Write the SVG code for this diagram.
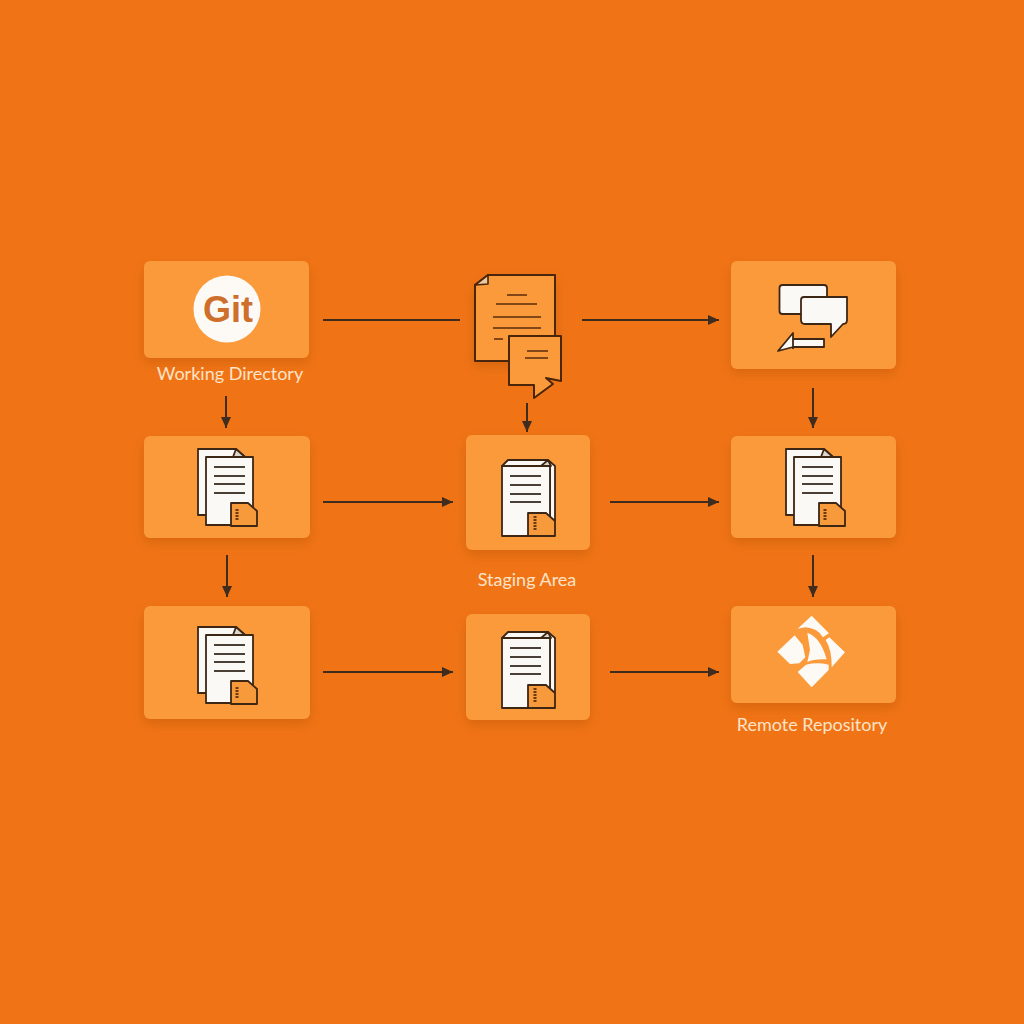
<svg xmlns="http://www.w3.org/2000/svg" width="1024" height="1024" viewBox="0 0 1024 1024">
<style>
.card{fill:#fb9a3a;filter:url(#sh)}
.lab{font-family:"Lato","Noto Sans","Liberation Sans",sans-serif;font-size:18px;fill:#fde3c8;text-anchor:middle}
.conn{stroke:#3f2c1e;stroke-width:2;fill:none}
.ink{stroke:#3d2614;stroke-width:1.8;stroke-linejoin:round}
.paper{fill:#fbf9f6}
.fold{fill:#f79a3c}
.ln{stroke:#4a4038;stroke-width:2;fill:none}
.ln2{stroke:#5a2d0c;stroke-width:1.7;fill:none}
</style>
<defs>
<filter id="sh" x="-15%" y="-15%" width="130%" height="135%"><feDropShadow dx="0" dy="5" stdDeviation="6" flood-color="#b24f06" flood-opacity=".4"/></filter>
<marker id="ah" markerUnits="userSpaceOnUse" markerWidth="12" markerHeight="12" refX="11" refY="6" orient="auto"><path d="M0 1L11 6L0 11Z" fill="#3f2c1e"/></marker>
<symbol id="docA" overflow="visible">
<path class="ink paper" d="M198 449H236L245 457V515H198Z"/>
<path class="ink" fill="#ddd6cc" d="M236 449L245 457H233Z"/>
<path class="ink paper" d="M206 457H253V525H206Z"/>
<path class="ln" d="M214 467H245M214 476H245M214 484H245M214 493H245"/>
<path class="ink fold" d="M231 503H248L257 511V526H231Z"/>
<path d="M237 509V521" stroke="#6b3a10" stroke-width="3" stroke-dasharray="2 1" fill="none"/>
</symbol>
<symbol id="docB" overflow="visible">
<path class="ink paper" d="M508 632H548L555 638V692H550V638H502L508 632Z"/>
<path class="ink paper" d="M502 638H550V708H502Z"/>
<path class="ink" fill="#ddd6cc" d="M541 638L548 632L551 638Z"/>
<path class="ln" d="M510 648H541M510 657H541M510 666H541M510 674H541"/>
<path class="ink fold" d="M528 685H546L555 693V708H528Z"/>
<path d="M535 688V702" stroke="#6b3a10" stroke-width="3" stroke-dasharray="2 1" fill="none"/>
</symbol>
</defs>
<rect width="1024" height="1024" fill="#f07416"/>

<g id="connectors">
<path class="conn" d="M323 320H460"/>
<path class="conn" marker-end="url(#ah)" d="M582 320H719"/>
<path class="conn" marker-end="url(#ah)" d="M226 396V428"/>
<path class="conn" marker-end="url(#ah)" d="M527 403V432"/>
<path class="conn" marker-end="url(#ah)" d="M813 388V428"/>
<path class="conn" marker-end="url(#ah)" d="M323 502H453"/>
<path class="conn" marker-end="url(#ah)" d="M610 502H719"/>
<path class="conn" marker-end="url(#ah)" d="M227 555V597"/>
<path class="conn" marker-end="url(#ah)" d="M813 555V597"/>
<path class="conn" marker-end="url(#ah)" d="M323 672H453"/>
<path class="conn" marker-end="url(#ah)" d="M610 672H719"/>
</g>

<g id="working-directory">
<rect class="card" x="144" y="261" width="165" height="97" rx="6"/>
<circle cx="227" cy="309" r="33.500" fill="#fdfaf6"/>
<text x="228" y="322" font-family="'Liberation Sans',sans-serif" font-weight="700" font-size="36" fill="#cf6f2c" text-anchor="middle">Git</text>
<text class="lab" x="230" y="380">Working Directory</text>
</g>

<g id="commit-note">
<path fill="#fb9a3a" stroke="#4a2508" stroke-width="2" stroke-linejoin="round" d="M488 275H555V361H475V285Z" filter="url(#sh)"/>
<path fill="#ecc9a0" stroke="#4a2508" stroke-width="1.6" stroke-linejoin="round" d="M488 275L475 285L488 284Z"/>
<path class="ln2" d="M507 295H527M496 304H537M493 317H541M493 328H541M494 339H503"/>
<path fill="#fb9a3a" stroke="#4a2508" stroke-width="2" stroke-linejoin="round" d="M509 336H561V381L546 378L553 384L534 398V385H509Z"/>
<path class="ln2" d="M527 351H548M525 358H548"/>
</g>

<g id="chat">
<rect class="card" x="731" y="261" width="165" height="108" rx="6"/>
<rect class="ink paper" x="779.500" y="285" width="47.500" height="29" rx="3"/>
<path class="ink paper" d="M804 297H847V320Q847 324 843 324L831 337V324H805Q801 324 801 320V300Q801 297 804 297Z"/>
<path class="ink paper" d="M778 351L793 333V339H824V347H793Z"/>
<path class="ink" fill="none" d="M793 339V349"/>
</g>

<g id="node-r2c1">
<rect class="card" x="144" y="436" width="166" height="102" rx="6"/>
<use href="#docA"/>
</g>

<g id="staging-area">
<rect class="card" x="466" y="435" width="124" height="115" rx="6"/>
<use href="#docB" y="-172"/>
<text class="lab" x="527" y="586">Staging Area</text>
</g>

<g id="node-r2c3">
<rect class="card" x="731" y="436" width="165" height="102" rx="6"/>
<use href="#docA" x="588"/>
</g>

<g id="node-r3c1">
<rect class="card" x="144" y="606" width="166" height="113" rx="6"/>
<use href="#docA" y="178"/>
</g>

<g id="node-r3c2">
<rect class="card" x="466" y="614" width="124" height="106" rx="6"/>
<use href="#docB"/>
</g>

<g id="remote-repository">
<rect class="card" x="731" y="606" width="165" height="97" rx="6"/>
<g transform="translate(730 600) scale(.3333)" fill="#fdfaf6">
<path d="M245 47L297 100L279 112Q262 84 226 82L203 86Z"/>
<path d="M194 106L218 135L226 172L208 190L180 192L142 155Z"/>
<path d="M232 98Q272 112 290 178Q252 176 232 186L240 150Z"/>
<path d="M298 112L345 157L305 202Q306 150 287 120Z"/>
<path d="M245 262L203 216L228 194Q262 186 296 194L296 210Z"/>
</g>
<text class="lab" x="812" y="731">Remote Repository</text>
</g>
</svg>
